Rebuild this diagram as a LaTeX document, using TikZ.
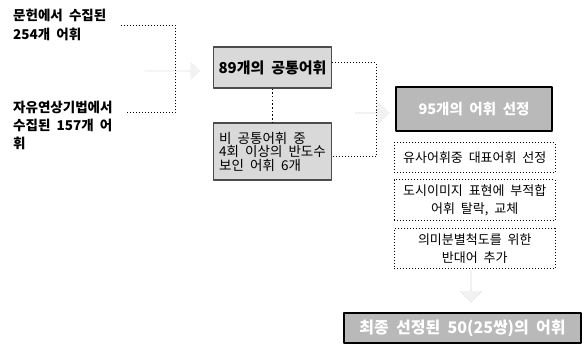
\documentclass[tikz,border=0pt]{standalone}
\usepackage{fontspec}
\setmainfont{Noto Sans CJK KR}[WordSpace=2]
\usetikzlibrary{positioning,shapes.arrows}

\begin{document}
\begin{tikzpicture}[x=1pt, y=-1pt, line join=round,
		font=\fontsize{13}{18.5}\selectfont,
		srclabel/.style={anchor=north west, inner sep=0pt, align=left, font=\bfseries\fontsize{13.5}{19}\selectfont},
		graybox/.style={draw=gray!60!black, line width=1.2pt, fill=gray!30, minimum width=118pt},
		darkbox/.style={draw=black, line width=2.5pt, fill=gray!55, text=white, font=\bfseries\fontsize{14.5}{17}\selectfont},
		dots/.style={line width=1pt, dash pattern=on 1pt off 2pt},
		dotbox/.style={draw, dots, fill=white, minimum width=161pt, align=center},
		faint/.style={single arrow, draw=gray!35, dotted, fill=gray!10, single arrow head extend=4pt, inner sep=0pt}]
	\useasboundingbox (0,0) rectangle (585,347);
	% collected words
	\node [srclabel] (lit) at (13,9) {문헌에서 수집된\\254개 어휘};
	\node [srclabel, font=\bfseries\fontsize{13.5}{18}\selectfont] (free) at (13,101) {자유연상기법에서\\수집된 157개 어\\휘};
	% faint arrows
	\node [faint, minimum height=55pt, minimum width=18pt] (fl) at (172,71) {};
	\node [faint, minimum height=34pt, minimum width=24pt] (fr) at (372,113) {};
	% common / extra words
	\node [graybox, minimum height=41pt, font=\bfseries\fontsize{15}{17}\selectfont] (common) at (272.5,67.5) {89개의 공통어휘};
	\node [graybox, minimum height=57pt, align=left, font=\fontsize{13.5}{13.5}\selectfont] (extra) at (272.5,151.5) {비 공통어휘 중\\4회 이상의 반도수\\보인 어휘 6개};
	\draw [line width=1.8pt, dash pattern=on 1.5pt off 2.2pt] (common) -- (extra);
	\coordinate (lj) at (175,71);
	\coordinate (rj) at (376,110);
	\draw [dots] ([xshift=14pt]lit.east) -| (lj) |- ([xshift=14pt, yshift=13pt]free.east);
	\draw [dots] ([yshift=4.5pt]common.east) -| (rj) |- ([yshift=-5.5pt]extra.east);
	% selection
	\node [darkbox, minimum width=156pt, minimum height=44pt] (sel) at (474,109) {95개의 어휘 선정};
	\node [dotbox, minimum height=30pt, below right=10pt and -1pt of sel.south west] (sim) {유사어휘중 대표어휘 선정};
	\node [dotbox, minimum height=41pt, below=6pt of sim] (unfit) {도시이미지 표현에 부적합\\어휘 탈락, 교체};
	\node [dotbox, minimum height=40pt, below=7pt of unfit] (anto) {의미분별척도를 위한\\반대어 추가};
	\node [faint, draw=gray!60, shape border rotate=270, minimum height=32pt, minimum width=22pt] (dn) at (471,286) {};
	\node [darkbox, minimum width=237pt, minimum height=30pt, font=\bfseries\fontsize{16}{18}\selectfont] (final) at (462.5,328) {최종 선정된 50(25쌍)의 어휘};
\end{tikzpicture}
\end{document}
